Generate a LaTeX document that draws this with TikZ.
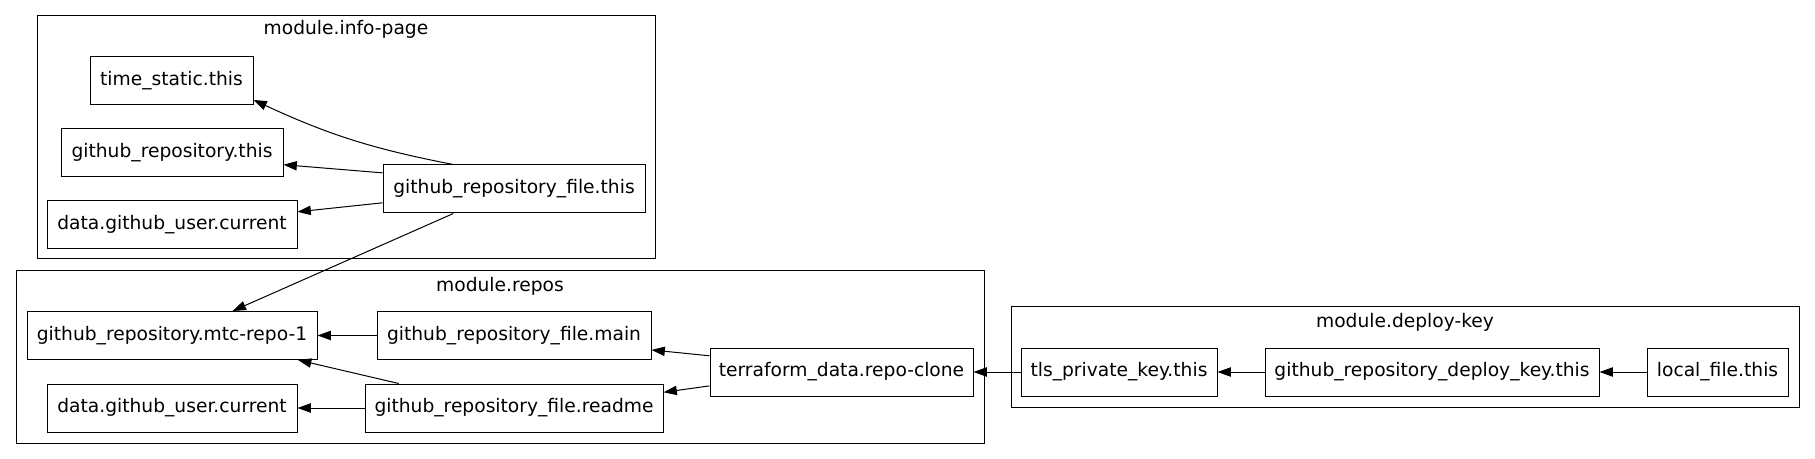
\documentclass[tikz,border=0pt]{standalone}
\usepackage{fontspec}
\setmainfont{DejaVu Sans}
\usetikzlibrary{arrows.meta}

\begin{document}
\begin{tikzpicture}[x=0.75pt, y=-0.75pt,
  every node/.style={font=\fontsize{14pt}{16pt}\selectfont},
  box/.style={draw, line width=0.75pt, inner sep=0pt, minimum height=36pt},
  wd/.style={minimum width=#1*0.75pt},
  title/.style={anchor=base, inner sep=0pt},
  cluster/.style={draw, line width=0.75pt},
  edge/.style={-{Triangle[length=10pt,width=7pt]}, line width=0.75pt}]

\useasboundingbox (0,0) rectangle (1815,459);

% clusters
\draw [cluster] (37,16) rectangle (655,259);
\draw [cluster] (16,271) rectangle (984,443);
\draw [cluster] (1011,307) rectangle (1799,407);

\node [title] (infotitle)   at (346,35)   {module.info-page};
\node [title] (repostitle)  at (500,292)  {module.repos};
\node [title] (deploytitle) at (1405,327) {module.deploy-key};

% module.info-page
\node [box, wd=163] (time)     at (171.5,81) {time\_static.this};
\node [box, wd=222] (ghrepo)   at (172,153)  {github\_repository.this};
\node [box, wd=250] (userinfo) at (172,225)  {data.github\_user.current};
\node [box, wd=262] (filethis) at (514,189)  {github\_repository\_file.this};

% module.repos
\node [box, wd=290] (mtc)       at (172,335.5) {github\_repository.mtc-repo-1};
\node [box, wd=250] (userrepos) at (172,408)   {data.github\_user.current};
\node [box, wd=274] (filemain)  at (514,335.5) {github\_repository\_file.main};
\node [box, wd=298] (readme)    at (514,408)   {github\_repository\_file.readme};
\node [box, wd=263] (clone)     at (841.5,372) {terraform\_data.repo-clone};

% module.deploy-key
\node [box, wd=196] (tls)       at (1119,372)   {tls\_private\_key.this};
\node [box, wd=334] (deploykey) at (1432,372)   {github\_repository\_deploy\_key.this};
\node [box, wd=141] (local)     at (1717.5,372) {local\_file.this};

% edges
\draw [edge] (filethis.158.8) to[bend left=7] (time.-13);
\draw [edge] (filethis.173.9) -- (ghrepo.-6.7);
\draw [edge] (filethis.186.2) -- (userinfo.6.8);
\draw [edge] (filethis.202.8) -- (mtc.22.1);

\draw [edge] (filemain) -- (mtc);
\draw [edge] (readme.168.3) -- (mtc.-11.3);
\draw [edge] (readme) -- (userrepos);
\draw [edge] (clone.173.5) -- (filemain.-6.5);
\draw [edge] (clone.186.4) -- (readme.6.6);

\draw [edge] (tls) -- (clone);
\draw [edge] (deploykey) -- (tls);
\draw [edge] (local) -- (deploykey);

\end{tikzpicture}
\end{document}
